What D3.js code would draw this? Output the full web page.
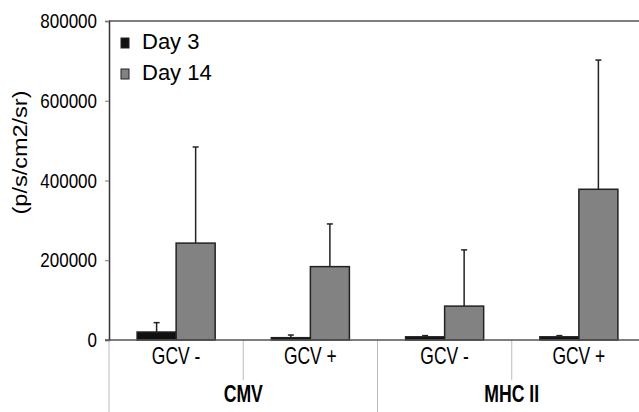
<!DOCTYPE html>
<html>
<head>
<meta charset="utf-8">
<script src="https://cdn.jsdelivr.net/npm/d3@7"></script>
<style>
  body { margin: 0; background: #fff; }
  text { font-family: "Liberation Sans", Arial, sans-serif; fill: #000; }
</style>
</head>
<body>
<div id="wrapper"></div>
<script>
// data
const groups = ["CMV", "MHC II"];
const categories = ["GCV -", "GCV +", "GCV -", "GCV +"];
const series = ["Day 3", "Day 14"];
const day3 = [20000, 5800, 8000, 8000];
const day3Err = [43500, 12500, 11000, 11000];
const day14 = [243000, 184000, 85000, 378000];
const day14Err = [484000, 291000, 226000, 702000];
const yTicks = [0, 200000, 400000, 600000, 800000];

const colors = { "Day 3": "#111111", "Day 14": "#828282" };
const narrow = 0.81; // the original font is a condensed one

const width = 639;
const height = 412;
let dimensions = {
    width: width,
    height: height,
    margin: { top: 21, right: -7, bottom: 72, left: 109 }
};
dimensions.bounded_width = dimensions.width - dimensions.margin.left - dimensions.margin.right;
dimensions.bounded_height = dimensions.height - dimensions.margin.top - dimensions.margin.bottom;

const svg = d3.select("#wrapper")
    .append("svg")
    .attr("width", dimensions.width)
    .attr("height", dimensions.height);

const bounds = svg.append("g")
    .attr("transform", `translate(${dimensions.margin.left},${dimensions.margin.top})`);

const idx = d3.range(categories.length);
const xScale = d3.scaleBand()
    .domain(idx)
    .range([0, dimensions.bounded_width])
    .padding(0);

const xInner = d3.scaleBand()
    .domain(series)
    .range([0, xScale.bandwidth()])
    .paddingInner(0)
    .paddingOuter(0.72);

const yScale = d3.scaleLinear()
    .domain([0, 800000])
    .range([dimensions.bounded_height, 0]);

// squeezed text helper
function label(parent, x, y, txt, size, anchor, sx) {
    return parent.append("text")
        .attr("transform", `translate(${x},${y}) scale(${sx || narrow},1)`)
        .attr("text-anchor", anchor || "start")
        .attr("font-size", size)
        .text(txt);
}

// top frame line
bounds.append("line")
    .attr("x1", 0).attr("x2", dimensions.bounded_width)
    .attr("y1", 0).attr("y2", 0)
    .attr("stroke", "#555").attr("stroke-width", 1.5);

// y axis
const yAxis = d3.axisLeft(yScale)
    .tickValues(yTicks)
    .tickSize(4)
    .tickFormat(d3.format("d"));
const yAxisG = bounds.append("g").call(yAxis);
yAxisG.select(".domain").attr("stroke", "#333").attr("stroke-width", 1.5);
yAxisG.selectAll(".tick line").attr("stroke", "#777");
yAxisG.selectAll(".tick text")
    .attr("x", -12 / narrow)
    .attr("transform", `scale(${narrow},1)`)
    .attr("font-size", 21)
    .attr("fill", "#000")
    .style("font-family", "'Liberation Sans', Arial, sans-serif");

// category separators below the axis
const sepG = bounds.append("g");
idx.forEach(i => {
    const major = i % 2 === 0;
    sepG.append("line")
        .attr("x1", xScale(i)).attr("x2", xScale(i))
        .attr("y1", dimensions.bounded_height)
        .attr("y2", major ? dimensions.height - dimensions.margin.top : dimensions.bounded_height + 40)
        .attr("stroke", "#bbb").attr("stroke-width", 1);
});

// bars
const rows = idx.map(i => ({
    i: i,
    vals: [
        { key: "Day 3", v: day3[i], e: day3Err[i] },
        { key: "Day 14", v: day14[i], e: day14Err[i] }
    ]
}));

const cat = bounds.selectAll(".cat")
    .data(rows)
    .join("g")
    .attr("class", "cat")
    .attr("transform", d => `translate(${xScale(d.i)},0)`);

// error bars (upward only)
cat.selectAll(".err")
    .data(d => d.vals)
    .join("g")
    .attr("class", "err")
    .each(function(d) {
        const g = d3.select(this);
        const cx = xInner(d.key) + xInner.bandwidth() / 2;
        g.append("line")
            .attr("x1", cx).attr("x2", cx)
            .attr("y1", yScale(d.v)).attr("y2", yScale(d.e))
            .attr("stroke", "#222").attr("stroke-width", 1.5);
        g.append("line")
            .attr("x1", cx - 3).attr("x2", cx + 3)
            .attr("y1", yScale(d.e)).attr("y2", yScale(d.e))
            .attr("stroke", "#222").attr("stroke-width", 1.5);
    });

cat.selectAll("rect")
    .data(d => d.vals)
    .join("rect")
    .attr("x", d => xInner(d.key))
    .attr("width", xInner.bandwidth())
    .attr("y", d => yScale(d.v))
    .attr("height", d => yScale(0) - yScale(d.v))
    .attr("fill", d => colors[d.key])
    .attr("stroke", "#222")
    .attr("stroke-width", 1.5);

// x axis baseline
bounds.append("line")
    .attr("x1", -4).attr("x2", dimensions.bounded_width)
    .attr("y1", yScale(0)).attr("y2", yScale(0))
    .attr("stroke", "#555").attr("stroke-width", 1.5);

// category labels
idx.forEach(i => {
    label(bounds, xScale(i) + xScale.bandwidth() / 2, dimensions.bounded_height + 24, categories[i], 23, "middle", 0.76);
});

// group labels
groups.forEach((g, j) => {
    label(bounds, xScale(j * 2 + 1), dimensions.bounded_height + 62, g, 23.5, "middle", 0.75)
        .attr("font-weight", "bold");
});

// y label
svg.append("text")
    .attr("transform", "translate(27,152.5) rotate(-90)")
    .attr("text-anchor", "middle")
    .attr("font-size", 20)
    .attr("textLength", 124)
    .attr("lengthAdjust", "spacingAndGlyphs")
    .text("(p/s/cm2/sr)");

// legend
const legend = svg.append("g").attr("transform", "translate(121,38)");
series.forEach((s, k) => {
    const row = legend.append("g").attr("transform", `translate(0,${k * 31})`);
    row.append("rect")
        .attr("width", 8).attr("height", 10)
        .attr("fill", colors[s])
        .attr("stroke", "#222").attr("stroke-width", 1);
    label(row, 21, 10.5, s, 22, "start", 1);
});
</script>
</body>
</html>
